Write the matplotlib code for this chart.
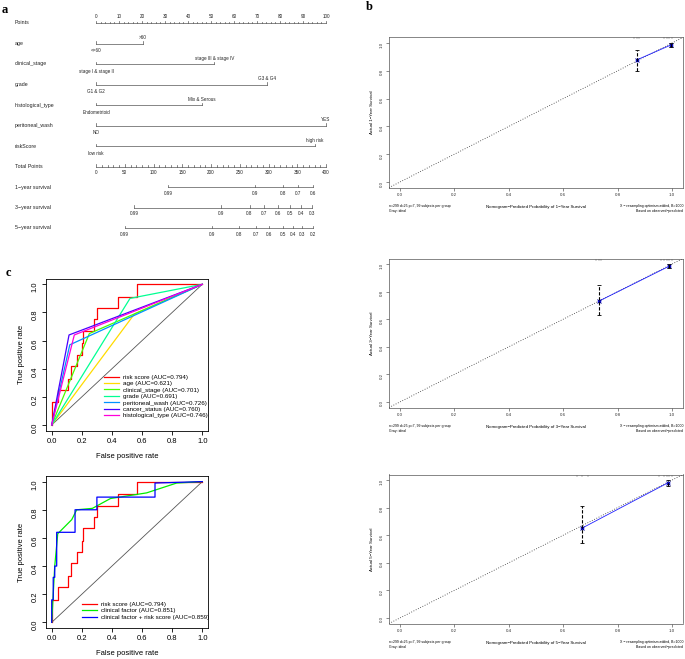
import matplotlib
matplotlib.use('Agg')
import matplotlib.pyplot as plt
import numpy as np

W, H = 685, 659
plt.rcParams['font.family'] = ['Liberation Sans', 'DejaVu Sans']

# ---- panel a: nomogram ----
nomo_vars = ['age', 'clinical_stage', 'grade', 'histological_type', 'peritoneal_wash', 'riskScore']
nomo_low = ['<=60', 'stage I & stage II', 'G1 & G2', 'Endometrioid', 'NO', 'low risk']
nomo_high = ['>60', 'stage III & stage IV', 'G3 & G4', 'Mix & Serous', 'YES', 'high risk']
nomo_points = [20.5, 51.5, 74.5, 46, 100, 95]

surv_rows = ['1\u2212year survival', '3\u2212year survival', '5\u2212year survival']
surv_labels = [['0.99', '0.9', '0.8', '0.7', '0.6'],
               ['0.99', '0.9', '0.8', '0.7', '0.6', '0.5', '0.4', '0.3'],
               ['0.99', '0.9', '0.8', '0.7', '0.6', '0.5', '0.4', '0.3', '0.2']]
surv_total = [[125, 277, 326, 352, 378],
              [66, 217, 267, 292, 317, 337, 356, 375],
              [50, 202, 249, 279, 301, 325, 342, 359, 378]]

# ---- panel b: calibration ----
cal_years = [1, 3, 5]
cal_pred = [[0.87, 0.995], [0.73, 0.99], [0.668, 0.985]]
cal_obs = [[0.878, 0.985], [0.73, 0.985], [0.65, 0.98]]
cal_lo = [[0.80, 0.97], [0.63, 0.97], [0.54, 0.955]]
cal_hi = [[0.95, 1.00], [0.85, 1.00], [0.81, 1.00]]
cal_rug = [[0.86, 0.87, 0.88, 0.97, 0.98, 0.99, 1.0],
           [0.72, 0.73, 0.74, 0.96, 0.97, 0.98, 0.99, 1.0],
           [0.65, 0.67, 0.69, 0.95, 0.97, 0.98, 0.99, 1.0]]

# ---- panel c: ROC ----
risk_fpr = [0, 0, 0.044, 0.044, 0.11, 0.11, 0.13, 0.13, 0.17, 0.17, 0.20, 0.20, 0.21, 0.21,
            0.28, 0.28, 0.30, 0.30, 0.44, 0.44, 0.565, 0.565, 1.0]
risk_tpr = [0, 0.16, 0.16, 0.25, 0.25, 0.33, 0.33, 0.42, 0.42, 0.50, 0.50, 0.58, 0.58, 0.67,
            0.67, 0.75, 0.75, 0.83, 0.83, 0.91, 0.91, 1.0, 1.0]
clin_names = ['age', 'clinical_stage', 'grade', 'peritoneal_wash', 'cancer_status', 'histological_type']
clin_auc = ['0.621', '0.701', '0.691', '0.726', '0.760', '0.746']
clin_fpr = [0.55, 0.25, 0.52, 0.12, 0.115, 0.15]
clin_tpr = [0.79, 0.65, 0.90, 0.57, 0.64, 0.64]
roc_colors = ['#FF0000', '#FFDB00', '#49FF00', '#00FF92', '#0092FF', '#4900FF', '#FF00DB']

cf_fpr = [0, 0.01, 0.02, 0.04, 0.133, 0.166, 0.27, 0.39, 0.63, 0.83, 1.0]
cf_tpr = [0, 0.20, 0.40, 0.63, 0.73, 0.80, 0.81, 0.88, 0.92, 0.99, 1.0]
comb_fpr = [0, 0, 0.01, 0.01, 0.02, 0.02, 0.033, 0.033, 0.155, 0.155, 0.30, 0.30, 0.686, 0.686, 1.0]
comb_tpr = [0, 0.16, 0.16, 0.32, 0.32, 0.40, 0.40, 0.64, 0.64, 0.80, 0.80, 0.89, 0.89, 0.99, 1.0]


def box(x0, y0, x1, y1):
    return [x0 / W, 1 - y1 / H, (x1 - x0) / W, (y1 - y0) / H]


fig = plt.figure(figsize=(W / 100, H / 100), dpi=100)

# nomogram
ax = fig.add_axes(box(0, 0, 345, 250))
ax.set_xlim(-96 / 2.3, (345 - 96) / 2.3)
ax.set_ylim((250 - 23) / 20.5, -23 / 20.5)
ax.axis('off')
lab_x = (15 - 96) / 2.3
lc = dict(color='#555555', lw=0.5)
fs_lab, fs_tk = 3.8, 3.3
tk = 0.12

ax.text(lab_x, 0, 'Points', fontsize=fs_lab, va='center', color='#222222')
ax.plot([0, 100], [0, 0], **lc)
for v in range(0, 101, 2):
    ax.plot([v, v], [0, -tk if v % 10 == 0 else -tk / 2], **lc)
for v in range(0, 101, 10):
    ax.text(v, -0.3, str(v), fontsize=fs_tk, ha='center', va='center', color='#222222')

for i, (name, lo, hi, p) in enumerate(zip(nomo_vars, nomo_low, nomo_high, nomo_points), start=1):
    ax.text(lab_x, i, name, fontsize=fs_lab, va='center', color='#222222')
    ax.plot([0, p], [i, i], **lc)
    ax.plot([0, 0], [i, i - tk], **lc)
    ax.plot([p, p], [i, i - tk], **lc)
    ax.text(0, i + 0.36, lo, fontsize=fs_tk, ha='center', va='center', color='#222222')
    ax.text(p, i - 0.27, hi, fontsize=fs_tk, ha='center', va='center', color='#222222')

ax.text(lab_x, 7, 'Total Points', fontsize=fs_lab, va='center', color='#222222')
ax.plot([0, 100], [7, 7], **lc)
for v in range(0, 401, 10):
    ax.plot([v / 4, v / 4], [7, 7 - (tk if v % 50 == 0 else tk / 2)], **lc)
for v in range(0, 401, 50):
    ax.text(v / 4, 7.3, str(v), fontsize=fs_tk, ha='center', va='center', color='#222222')

for j, (name, labs, tps) in enumerate(zip(surv_rows, surv_labels, surv_total)):
    r = 8 + j
    ax.text(lab_x, r, name, fontsize=fs_lab, va='center', color='#222222')
    xs = np.array(tps) / 4
    ax.plot([xs.min(), xs.max()], [r, r], **lc)
    for x, l in zip(xs, labs):
        ax.plot([x, x], [r, r - tk], **lc)
        ax.text(x, r + 0.3, l, fontsize=fs_tk, ha='center', va='center', color='#222222')

# calibration plots
cal_boxes = [(389, 37.4, 683, 187.6), (389, 258.5, 683, 407.5), (389, 474.5, 683, 623.5)]
for k, (x0, y0, x1, y1) in enumerate(cal_boxes):
    ax = fig.add_axes(box(x0, y0, x1, y1))
    ax.set_xlim(-0.04, 1.04)
    ax.set_ylim(-0.04, 1.04)
    ax.set_xticks(np.arange(0, 1.01, 0.2))
    ax.set_yticks(np.arange(0, 1.01, 0.2))
    ax.xaxis.set_major_formatter('{x:.1f}')
    ax.yaxis.set_major_formatter('{x:.1f}')
    ax.tick_params(length=2, width=0.4, labelsize=3.2, pad=2, colors='#333333')
    ax.tick_params(axis='y', labelrotation=90)
    for s in ax.spines.values():
        s.set_linewidth(0.5)
        s.set_color('#555555')
    ax.axline((0, 0), (1, 1), color='#333333', lw=0.6, ls=(0, (1, 2)))
    ax.plot(cal_pred[k], cal_obs[k], color='#2020ff', lw=0.6, marker='o', ms=1.6)
    ax.plot(cal_pred[k], cal_obs[k], ls='none', marker='x', ms=2.2, mew=0.6, color='#00008b')
    eb = ax.errorbar(cal_pred[k], cal_obs[k],
                     yerr=[np.array(cal_obs[k]) - np.array(cal_lo[k]),
                           np.array(cal_hi[k]) - np.array(cal_obs[k])],
                     fmt='none', ecolor='black', elinewidth=0.8, capsize=1.2, capthick=0.6)
    eb[2][0].set_linestyle((0, (3, 1.5)))
    ax.vlines(cal_rug[k], 1.04 - 0.015, 1.04, color='#555555', lw=0.3)
    ax.set_ylabel('Actual %d\u2212Year Survival' % cal_years[k], fontsize=3.2, labelpad=4)
    ax.set_xlabel('Nomogram\u2212Predicted Probability of %d\u2212Year Survival' % cal_years[k],
                  fontsize=3.2, labelpad=6)
    fig.text(x0 / W, 1 - (y1 + 21) / H, 'n=299 d=25 p=7, 99 subjects per group\nGray: ideal',
             fontsize=2.5, ha='left', va='center', linespacing=1.2)
    fig.text(x1 / W, 1 - (y1 + 21) / H, 'X \u2212 resampling optimism added, B=1000\nBased on observed\u2212predicted',
             fontsize=2.5, ha='right', va='center', linespacing=1.2, multialignment='right')


def roc_axes(y0, y1):
    ax = fig.add_axes(box(45.7, y0, 208.3, y1))
    ax.set_xlim(-0.04, 1.04)
    ax.set_ylim(-0.04, 1.04)
    ax.set_xticks(np.arange(0, 1.01, 0.2))
    ax.set_yticks(np.arange(0, 1.01, 0.2))
    ax.xaxis.set_major_formatter('{x:.1f}')
    ax.yaxis.set_major_formatter('{x:.1f}')
    ax.tick_params(length=3, width=0.6, labelsize=5.5, pad=2)
    ax.tick_params(axis='y', labelrotation=90)
    for s in ax.spines.values():
        s.set_linewidth(0.6)
    ax.plot([0, 1], [0, 1], color='#555555', lw=0.6)
    ax.set_xlabel('False positive rate', fontsize=5.5, labelpad=6)
    ax.set_ylabel('True positive rate', fontsize=5.5, labelpad=5)
    return ax


ax = roc_axes(278.7, 430.6)
ax.plot(risk_fpr, risk_tpr, color=roc_colors[0], lw=0.9, label='risk score (AUC=0.794)')
for n, a, f, t, c in zip(clin_names, clin_auc, clin_fpr, clin_tpr, roc_colors[1:]):
    ax.plot([0, f, 1], [0, t, 1], color=c, lw=0.9, label='%s (AUC=%s)' % (n, a))
ax.legend(loc='upper left', bbox_to_anchor=(0.36, 0.37), frameon=False, fontsize=4.5,
          borderaxespad=0, borderpad=0, handlelength=2.4, handletextpad=0.6, labelspacing=0.17)

ax = roc_axes(476, 628)
ax.plot(risk_fpr, risk_tpr, color='red', lw=0.9, label='risk score (AUC=0.794)')
ax.plot(cf_fpr, cf_tpr, color='#00ee00', lw=0.9, label='clinical factor (AUC=0.851)')
ax.plot(comb_fpr, comb_tpr, color='blue', lw=0.9, label='clinical factor + risk score (AUC=0.859)')
ax.legend(loc='upper left', bbox_to_anchor=(0.225, 0.174), frameon=False, fontsize=4.5,
          borderaxespad=0, borderpad=0, handlelength=2.4, handletextpad=0.6, labelspacing=0.17)

for t, x, y in [('a', 5, 10), ('b', 369, 7), ('c', 8, 273)]:
    fig.text(x / W, 1 - y / H, t, fontsize=9, fontweight='bold', family='Liberation Serif',
             ha='center', va='center')

fig.savefig('out.png', dpi=100)
